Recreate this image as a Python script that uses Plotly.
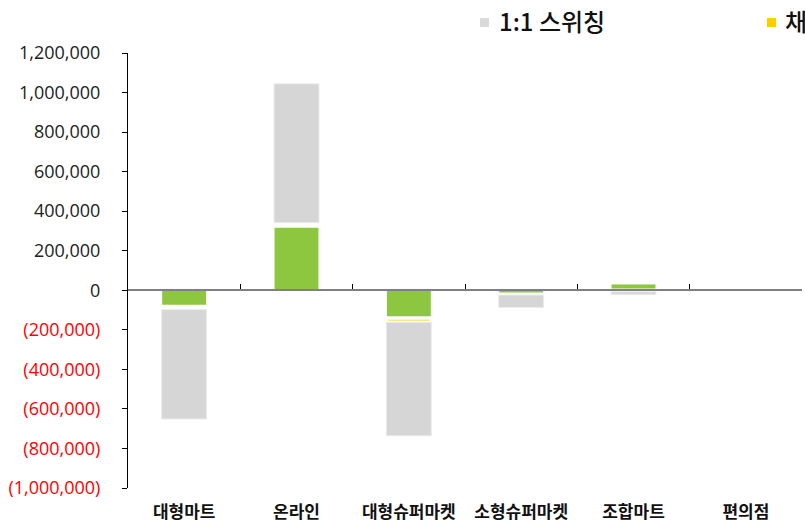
import plotly.graph_objects as go

categories = ["대형마트", "온라인", "대형슈퍼마켓", "소형슈퍼마켓", "조합마트", "편의점"]
green_name = "순증감"
yellow_name = "채널전환"
gray_name = "1:1 스위칭"
green_vals = [-82000, 325000, -140000, -20000, 32000, 0]
yellow_vals = [-16000, 17000, -22000, -4000, -8000, 0]
gray_vals = [-553000, 702000, -574000, -63000, -14000, 0]
y_tickvals = [1200000, 1000000, 800000, 600000, 400000, 200000, 0,
              -200000, -400000, -600000, -800000, -1000000]

def fmt(v):
    if v < 0:
        return "<span style='color:#FF0000'>(" + f"{-v:,}" + ")</span>"
    return f"{v:,}"

y_ticktext = [fmt(v) for v in y_tickvals]

GREEN = "#8DC63F"
YELLOW = "#FFCC00"
GRAY = "#D6D6D6"

fig = go.Figure()
fig.add_trace(go.Bar(x=categories, y=green_vals, name=green_name,
                     marker=dict(color=GREEN, line=dict(color="white", width=1)),
                     width=0.4))
fig.add_trace(go.Bar(x=categories, y=yellow_vals, name=yellow_name,
                     marker=dict(color=YELLOW, line=dict(color="white", width=3.5)),
                     width=0.4))
fig.add_trace(go.Bar(x=categories, y=gray_vals, name=gray_name,
                     marker=dict(color=GRAY, line=dict(color="#EBEBEB", width=1)),
                     width=0.4))
# helper trace so the zero-position axis is drawn
fig.add_trace(go.Scatter(x=categories, y=[0] * len(categories), xaxis="x2",
                         mode="markers", marker=dict(opacity=0),
                         showlegend=False, hoverinfo="skip"))

ymin, ymax = -1000000, 1200000
fig.update_layout(
    width=805, height=523,
    margin=dict(l=128, r=3, t=53, b=35),
    paper_bgcolor="white", plot_bgcolor="white",
    barmode="relative",
    showlegend=False,
    font=dict(family="Open Sans", color="#222222"),
    xaxis=dict(
        type="category", categoryorder="array", categoryarray=categories,
        showline=False, showgrid=False, zeroline=False, ticks="",
        tickfont=dict(family="Noto Sans CJK KR", size=17, color="#111111", weight="bold"),
        ticklabelstandoff=12, automargin=False,
    ),
    xaxis2=dict(
        type="category", categoryorder="array", categoryarray=categories,
        overlaying="x", matches="x", anchor="free", position=(0 - ymin) / (ymax - ymin),
        showline=True, linecolor="#808080", linewidth=2,
        ticks="inside", tickson="boundaries", ticklen=5, tickcolor="#000000", tickwidth=1,
        showticklabels=False, showgrid=False, zeroline=False, automargin=False,
    ),
    yaxis=dict(
        range=[ymin, ymax], tickvals=y_tickvals, ticktext=y_ticktext,
        showgrid=False, zeroline=False,
        showline=True, linecolor="#000000", linewidth=1,
        ticks="outside", ticklen=5, tickcolor="#000000", tickwidth=1,
        tickfont=dict(family="Open Sans", size=18, color="#222222"),
        ticklabelstandoff=18, automargin=False,
    ),
)

# legend drawn as annotations + squares (cropped at the right edge like the reference)
fig.add_shape(type="rect", xref="paper", yref="paper",
              x0=0.5223, x1=0.5356, y0=1.0596, y1=1.0803,
              fillcolor="#D9D9D9", line=dict(width=0))
fig.add_shape(type="rect", xref="paper", yref="paper",
              x0=0.948, x1=0.9614, y0=1.0596, y1=1.0803,
              fillcolor=YELLOW, line=dict(width=0))
fig.add_annotation(xref="paper", yref="paper", x=0.5475, y=1.0745,
                   xanchor="left", yanchor="middle", showarrow=False,
                   text=gray_name,
                   font=dict(family="Noto Sans CJK KR", size=24, color="#111111", weight=500))
fig.add_annotation(xref="paper", yref="paper", x=0.9718, y=1.0745,
                   xanchor="left", yanchor="middle", showarrow=False,
                   text=yellow_name,
                   font=dict(family="Noto Sans CJK KR", size=24, color="#111111", weight=500))

fig.write_html("out.html")
